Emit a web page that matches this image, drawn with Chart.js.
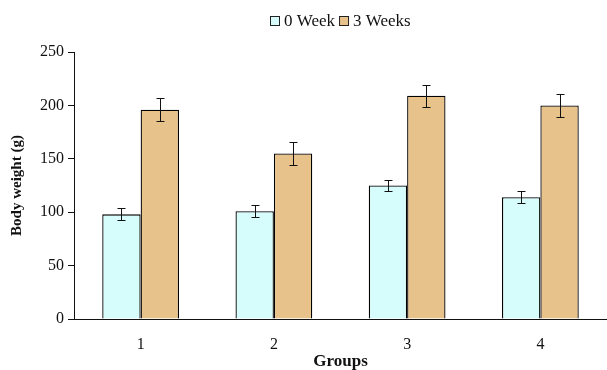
<!DOCTYPE html>
<html>
<head>
<meta charset="utf-8">
<script src="https://cdn.jsdelivr.net/npm/chart.js@4.4.1/dist/chart.umd.min.js"></script>
<style>
  html, body { margin: 0; padding: 0; background: #ffffff; }
  #wrap { width: 607px; height: 370px; position: relative; }
</style>
</head>
<body>
<div id="wrap"><canvas id="chart"></canvas></div>
<script>
// Body weight per group, measured at week 0 and week 3
const groups = ['1', '2', '3', '4'];
const seriesNames = ['0 Week', '3 Weeks'];
const week0 = [98, 101, 125, 114];
const week0Err = [5.5, 5.5, 5.5, 5.5];
const week3 = [196, 155, 209, 200];
const week3Err = [10.5, 11, 10.5, 11];
const yTicks = [0, 50, 100, 150, 200, 250];

const fillColors = ['#d6fcfc', '#e8c28b'];
const edgeColor = '#000000';
const serif = '"Liberation Serif", "Times New Roman", serif';

// Draws mean ± error whiskers on top of each bar
const errorBars = {
  id: 'errorBars',
  afterDatasetsDraw(chart) {
    const ctx = chart.ctx;
    const y = chart.scales.y;
    ctx.save();
    ctx.strokeStyle = '#111111';
    ctx.lineWidth = 1;
    chart.data.datasets.forEach((ds, i) => {
      const meta = chart.getDatasetMeta(i);
      meta.data.forEach((bar, j) => {
        const v = ds.data[j], e = ds.errors[j];
        const x = Math.round(bar.x) + 0.5;
        const yt = Math.round(y.getPixelForValue(v + e)) + 0.5;
        const yb = Math.round(y.getPixelForValue(v - e)) + 0.5;
        ctx.beginPath();
        ctx.moveTo(x, yt); ctx.lineTo(x, yb);
        ctx.moveTo(x - 4, yt); ctx.lineTo(x + 4, yt);
        ctx.moveTo(x - 4, yb); ctx.lineTo(x + 4, yb);
        ctx.stroke();
      });
    });
    ctx.restore();
  }
};

// Legend row above the plot: outlined swatch followed by the series name
const topLegend = {
  id: 'topLegend',
  afterDraw(chart) {
    const ctx = chart.ctx;
    ctx.save();
    ctx.font = '17px ' + serif;
    ctx.textBaseline = 'middle';
    ctx.fillStyle = '#111111';
    let x = 270;
    const yMid = 21;
    chart.data.datasets.forEach((ds, i) => {
      ctx.fillStyle = ds.backgroundColor;
      ctx.fillRect(x, yMid - 5, 10, 10);
      ctx.strokeStyle = '#222222';
      ctx.lineWidth = 1;
      ctx.strokeRect(x + 0.5, yMid - 4.5, 9, 9);
      x += 14;
      ctx.fillStyle = '#111111';
      ctx.fillText(ds.label, x, yMid + 1);
      x += ctx.measureText(ds.label).width + 4;
    });
    ctx.restore();
  }
};

new Chart(document.getElementById('chart'), {
  type: 'bar',
  data: {
    labels: groups,
    datasets: [
      { label: seriesNames[0], data: week0, errors: week0Err,
        backgroundColor: fillColors[0], borderColor: edgeColor, borderWidth: 1.3 },
      { label: seriesNames[1], data: week3, errors: week3Err,
        backgroundColor: fillColors[1], borderColor: edgeColor, borderWidth: 1.3 }
    ]
  },
  options: {
    responsive: true,
    maintainAspectRatio: false,
    animation: false,
    layout: { padding: { top: 52, right: -4, bottom: 0, left: 0 } },
    datasets: { bar: { categoryPercentage: 0.576, barPercentage: 1.0 } },
    plugins: {
      legend: { display: false },
      tooltip: { enabled: false }
    },
    scales: {
      x: {
        grid: { display: false },
        border: { display: true, color: '#111111', width: 1 },
        ticks: { color: '#111111', font: { family: serif, size: 16 }, padding: 8 },
        title: {
          display: true, text: 'Groups', color: '#111111',
          font: { family: serif, size: 17, weight: 'bold', lineHeight: 1 },
          padding: { top: 0, bottom: 0 }
        },
        afterFit(scale) { scale.height = 51; }
      },
      y: {
        min: 0, max: 250,
        afterBuildTicks(scale) { scale.ticks = yTicks.map(v => ({ value: v })); },
        grid: { drawOnChartArea: false, drawTicks: true, tickLength: 6, color: '#111111' },
        border: { display: true, color: '#111111', width: 1 },
        ticks: { color: '#111111', font: { family: serif, size: 16 }, padding: 4 },
        title: {
          display: true, text: 'Body weight (g)', color: '#111111',
          font: { family: serif, size: 15, weight: 'bold', lineHeight: 1.2 },
          padding: { top: 8, bottom: 0 }
        },
        afterFit(scale) { scale.width = 74; }
      }
    }
  },
  plugins: [errorBars, topLegend]
});
</script>
</body>
</html>
